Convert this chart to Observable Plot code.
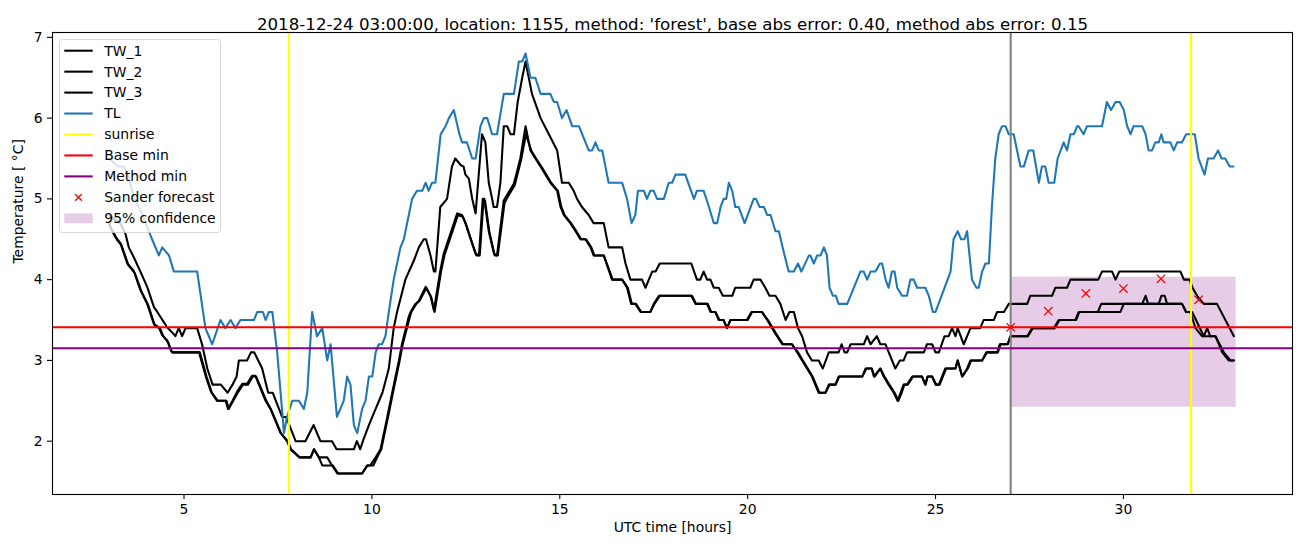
<!DOCTYPE html>
<html><head><meta charset="utf-8">
<script src="https://cdn.jsdelivr.net/npm/d3@7"></script>
<script src="https://cdn.jsdelivr.net/npm/@observablehq/plot@0.6"></script>
<style>
html,body{margin:0;padding:0;background:#fff}
svg{font-family:"DejaVu Sans",sans-serif}
</style>
</head><body><div id="chart"></div>
<script>
// ---------- data (hour, temperature) ----------
const tw1 = [[3.00,4.8],[3.30,4.7],[3.44,4.57],[3.53,4.4],[3.66,4.28],[3.84,4.1],[4.02,3.91],[4.20,3.66],[4.29,3.6],[4.37,3.54],[4.55,3.41],[4.68,3.35],[4.77,3.3],[4.86,3.4],[4.95,3.3],[5.04,3.4],[5.35,3.4],[5.48,3.2],[5.62,2.9],[5.76,2.7],[5.98,2.7],[6.16,2.6],[6.29,2.7],[6.40,2.8],[6.46,3.0],[6.68,3.0],[6.78,3.1],[6.87,3.1],[7.08,2.9],[7.24,2.6],[7.36,2.6],[7.61,2.3],[7.72,2.3],[7.97,2.0],[8.23,2.0],[8.45,2.2],[8.63,2.0],[8.94,2.0],[9.06,1.9],[9.52,1.9],[9.60,2.0],[9.69,1.9],[9.76,2.0],[9.92,2.2],[10.10,2.4],[10.28,2.6],[10.45,2.9],[10.58,3.4],[10.67,3.6],[10.89,4.0],[11.12,4.24],[11.25,4.4],[11.38,4.5],[11.44,4.5],[11.56,4.3],[11.65,4.1],[11.69,4.1],[11.82,4.9],[12.00,5.0],[12.13,5.4],[12.22,5.5],[12.36,5.42],[12.44,5.4],[12.49,5.3],[12.58,5.25],[12.67,5.0],[12.76,4.82],[12.93,5.8],[13.02,5.7],[13.11,5.2],[13.20,5.0],[13.24,4.9],[13.33,4.9],[13.42,5.2],[13.51,5.9],[13.60,5.9],[13.69,5.8],[13.78,5.8],[13.88,6.2],[14.00,6.5],[14.09,6.7],[14.26,6.3],[14.49,6.0],[14.71,5.8],[14.93,5.6],[15.06,5.2],[15.24,5.2],[15.37,5.1],[15.46,5.0],[15.59,4.9],[15.77,4.8],[15.90,4.7],[16.17,4.7],[16.30,4.4],[16.66,4.4],[16.75,4.2],[16.88,4.0],[17.19,4.0],[17.28,3.9],[17.46,4.1],[17.55,4.1],[17.66,4.2],[18.50,4.2],[18.65,4.0],[18.74,4.0],[18.83,4.1],[18.92,4.0],[19.01,4.0],[19.10,3.9],[19.23,3.9],[19.34,3.8],[19.59,3.8],[19.67,3.9],[20.07,3.9],[20.16,4.0],[20.34,4.0],[20.47,3.9],[20.58,3.8],[20.74,3.8],[20.87,3.7],[21.01,3.5],[21.11,3.6],[21.23,3.6],[21.34,3.4],[21.45,3.3],[21.58,3.1],[21.71,3.0],[21.89,3.0],[22.00,2.9],[22.16,3.1],[22.42,3.1],[22.50,3.2],[22.58,3.1],[22.65,3.1],[22.74,3.2],[23.09,3.2],[23.18,3.3],[23.27,3.2],[23.44,3.3],[23.53,3.2],[23.67,3.2],[23.93,2.9],[24.05,3.0],[24.15,3.0],[24.24,3.1],[24.69,3.1],[24.77,3.2],[24.91,3.2],[25.00,3.1],[25.09,3.1],[25.24,3.3],[25.35,3.3],[25.44,3.4],[25.53,3.3],[25.59,3.4],[25.75,3.2],[25.93,3.4],[26.19,3.4],[26.28,3.5],[26.55,3.5],[26.64,3.6],[26.82,3.6],[26.95,3.7],[27.44,3.7],[27.52,3.8],[28.10,3.8],[28.19,3.9],[28.50,3.9],[28.59,4.0],[29.33,4.0],[29.43,4.1],[29.70,4.1],[29.79,4.0],[29.89,4.1],[31.52,4.1],[31.61,4.0],[31.76,4.0],[31.84,3.9],[31.96,3.8],[32.14,3.7],[32.49,3.7],[32.94,3.3]];

const tw2 = [[3.00,4.7],[3.04,4.65],[3.18,4.53],[3.31,4.45],[3.49,4.2],[3.66,4.11],[3.84,3.87],[4.02,3.7],[4.20,3.45],[4.33,3.41],[4.42,3.31],[4.55,3.25],[4.64,3.14],[4.68,3.1],[5.40,3.1],[5.58,2.8],[5.72,2.61],[5.88,2.5],[6.11,2.5],[6.17,2.4],[6.29,2.5],[6.41,2.61],[6.55,2.71],[6.68,2.71],[6.81,2.81],[6.90,2.81],[7.17,2.5],[7.30,2.4],[7.39,2.3],[7.57,2.1],[7.74,2.0],[7.83,1.9],[8.06,1.8],[8.37,1.8],[8.46,1.9],[8.59,1.8],[8.81,1.8],[8.94,1.7],[9.08,1.6],[9.74,1.6],[9.88,1.7],[9.96,1.7],[10.10,1.8],[10.23,1.9],[10.32,2.1],[10.41,2.3],[10.54,2.6],[10.63,2.8],[10.72,3.0],[10.80,3.2],[10.98,3.54],[11.03,3.6],[11.16,3.7],[11.25,3.74],[11.43,3.91],[11.56,3.8],[11.65,3.62],[11.82,4.11],[11.91,4.32],[12.09,4.57],[12.27,4.82],[12.40,4.8],[12.49,4.7],[12.58,4.57],[12.76,4.32],[12.85,4.3],[12.95,5.0],[12.99,5.0],[13.11,4.6],[13.25,4.32],[13.33,4.3],[13.51,4.98],[13.60,5.05],[13.78,5.19],[13.95,5.5],[14.09,5.9],[14.22,5.6],[14.35,5.5],[14.49,5.4],[14.62,5.3],[14.75,5.2],[14.93,5.1],[15.02,4.9],[15.11,4.8],[15.28,4.7],[15.42,4.6],[15.55,4.5],[15.68,4.5],[15.82,4.4],[15.90,4.3],[16.17,4.3],[16.39,4.0],[16.66,4.0],[16.79,3.9],[16.90,3.7],[17.01,3.7],[17.15,3.6],[17.41,3.6],[17.50,3.7],[17.64,3.8],[18.50,3.8],[18.61,3.7],[18.92,3.7],[19.01,3.6],[19.14,3.6],[19.23,3.5],[19.36,3.5],[19.45,3.4],[19.54,3.5],[19.98,3.5],[20.10,3.6],[20.38,3.6],[20.52,3.5],[20.65,3.4],[20.78,3.3],[20.92,3.2],[21.18,3.2],[21.32,3.1],[21.45,3.0],[21.58,2.9],[21.71,2.8],[21.89,2.6],[22.07,2.6],[22.16,2.7],[22.34,2.7],[22.42,2.8],[23.05,2.8],[23.14,2.9],[23.30,2.9],[23.36,2.8],[23.53,2.9],[23.62,2.8],[23.75,2.7],[23.89,2.6],[23.99,2.5],[24.15,2.7],[24.24,2.7],[24.38,2.8],[24.64,2.8],[24.73,2.7],[24.79,2.8],[24.91,2.8],[25.00,2.7],[25.09,2.7],[25.26,2.9],[25.53,2.9],[25.59,3.0],[25.71,2.8],[25.84,2.9],[25.93,3.0],[26.24,3.0],[26.35,3.1],[26.64,3.1],[26.71,3.2],[26.92,3.2],[26.99,3.3],[27.44,3.3],[27.57,3.4],[28.15,3.4],[28.28,3.5],[28.72,3.5],[28.81,3.6],[29.32,3.6],[29.41,3.7],[30.50,3.7],[30.59,3.8],[30.66,3.7],[30.94,3.7],[31.01,3.8],[31.10,3.8],[31.16,3.7],[31.56,3.7],[31.67,3.6],[31.78,3.6],[31.92,3.4],[32.09,3.3],[32.45,3.3],[32.63,3.1],[32.80,3.0],[32.94,3.0]];

const tw3 = [[3.00,4.7],[3.07,4.62],[3.21,4.5],[3.34,4.42],[3.52,4.18],[3.69,4.08],[3.87,3.85],[4.05,3.68],[4.23,3.42],[4.36,3.4],[4.45,3.3],[4.58,3.22],[4.66,3.12],[4.70,3.1],[5.42,3.1],[5.60,2.8],[5.74,2.6],[5.90,2.5],[6.13,2.5],[6.19,2.4],[6.31,2.5],[6.43,2.6],[6.57,2.7],[6.70,2.7],[6.83,2.8],[6.92,2.8],[7.19,2.5],[7.31,2.4],[7.40,2.3],[7.58,2.1],[7.76,2.0],[7.85,1.9],[8.08,1.8],[8.37,1.8],[8.46,1.9],[8.59,1.8],[8.68,1.7],[8.96,1.7],[9.10,1.6],[9.74,1.6],[9.88,1.7],[10.04,1.7],[10.14,1.8],[10.25,1.9],[10.34,2.1],[10.43,2.3],[10.56,2.6],[10.65,2.8],[10.74,3.0],[10.82,3.2],[11.00,3.52],[11.05,3.6],[11.18,3.7],[11.27,3.74],[11.45,3.9],[11.58,3.78],[11.67,3.6],[11.84,4.1],[11.93,4.3],[12.11,4.55],[12.29,4.8],[12.42,4.78],[12.51,4.68],[12.60,4.55],[12.78,4.3],[12.87,4.3],[12.97,4.98],[13.01,4.98],[13.13,4.58],[13.27,4.3],[13.35,4.3],[13.53,4.95],[13.62,5.03],[13.80,5.17],[13.97,5.48],[14.10,5.8],[14.24,5.6],[14.37,5.5],[14.51,5.4],[14.64,5.3],[14.77,5.2],[14.95,5.1],[15.04,4.9],[15.13,4.8],[15.30,4.7],[15.44,4.6],[15.57,4.5],[15.70,4.5],[15.84,4.4],[15.92,4.3],[16.17,4.3],[16.41,4.0],[16.66,4.0],[16.81,3.9],[16.92,3.7],[17.03,3.7],[17.17,3.6],[17.41,3.6],[17.52,3.7],[17.66,3.8],[18.52,3.8],[18.63,3.7],[18.94,3.7],[19.03,3.6],[19.14,3.6],[19.25,3.5],[19.36,3.5],[19.45,3.4],[19.54,3.5],[20.00,3.5],[20.12,3.6],[20.38,3.6],[20.54,3.5],[20.67,3.4],[20.80,3.3],[20.94,3.2],[21.18,3.2],[21.34,3.1],[21.47,3.0],[21.60,2.9],[21.73,2.8],[21.91,2.6],[22.07,2.6],[22.18,2.7],[22.34,2.7],[22.44,2.8],[23.05,2.8],[23.16,2.9],[23.30,2.9],[23.38,2.8],[23.53,2.9],[23.64,2.8],[23.77,2.7],[23.91,2.6],[24.01,2.5],[24.10,2.6],[24.17,2.7],[24.26,2.7],[24.40,2.8],[24.64,2.8],[24.73,2.7],[24.79,2.8],[24.91,2.8],[25.02,2.7],[25.11,2.7],[25.28,2.9],[25.53,2.9],[25.59,3.0],[25.71,2.8],[25.86,2.9],[25.95,3.0],[26.24,3.0],[26.37,3.1],[26.66,3.1],[26.73,3.2],[26.92,3.2],[27.01,3.3],[27.46,3.3],[27.59,3.4],[28.17,3.4],[28.30,3.5],[28.74,3.5],[28.83,3.6],[29.92,3.6],[30.01,3.7],[31.56,3.7],[31.67,3.6],[31.83,3.6],[32.14,3.3],[32.23,3.4],[32.31,3.3],[32.45,3.3],[32.67,3.1],[32.85,3.0],[32.94,3.0]];

const tl = [[3.00,5.5],[3.25,5.4],[3.40,5.4],[3.50,5.3],[3.68,5.0],[3.90,4.8],[4.15,4.5],[4.33,4.3],[4.42,4.4],[4.60,4.3],[4.73,4.1],[5.35,4.1],[5.57,3.4],[5.75,3.2],[5.97,3.5],[6.10,3.4],[6.24,3.5],[6.37,3.4],[6.50,3.5],[6.86,3.5],[6.95,3.6],[7.10,3.6],[7.17,3.5],[7.26,3.6],[7.35,3.6],[7.48,3.1],[7.66,2.1],[7.74,2.3],[7.88,2.5],[8.06,2.5],[8.19,2.4],[8.28,2.6],[8.41,3.6],[8.54,3.3],[8.68,3.4],[8.81,3.0],[8.90,3.2],[9.07,2.3],[9.25,2.5],[9.34,2.8],[9.43,2.7],[9.52,2.2],[9.61,2.1],[9.74,2.4],[9.83,2.5],[9.92,2.8],[10.01,2.8],[10.10,3.1],[10.18,3.2],[10.27,3.2],[10.36,3.3],[10.45,3.6],[10.58,4.0],[10.76,4.4],[10.85,4.5],[11.07,5.0],[11.20,5.1],[11.34,5.1],[11.43,5.2],[11.51,5.1],[11.60,5.2],[11.69,5.2],[11.83,5.8],[11.96,5.9],[12.05,6.0],[12.18,6.1],[12.33,5.8],[12.40,5.7],[12.53,5.7],[12.67,5.5],[12.76,5.5],[12.89,5.9],[12.98,6.0],[13.07,6.0],[13.20,5.8],[13.33,5.8],[13.51,6.3],[13.78,6.3],[13.91,6.7],[14.00,6.7],[14.09,6.8],[14.22,6.5],[14.35,6.5],[14.49,6.3],[14.75,6.3],[14.84,6.2],[14.93,6.2],[15.06,6.0],[15.18,6.1],[15.33,5.9],[15.51,5.9],[15.77,5.6],[15.86,5.6],[15.95,5.7],[16.04,5.6],[16.13,5.6],[16.30,5.2],[16.66,5.2],[16.79,5.0],[16.91,4.7],[17.01,4.8],[17.08,5.1],[17.24,5.1],[17.32,5.0],[17.41,5.1],[17.50,5.1],[17.59,5.0],[17.77,5.0],[17.90,5.2],[17.99,5.2],[18.08,5.3],[18.34,5.3],[18.57,5.0],[18.65,5.1],[18.83,5.1],[18.97,4.9],[19.10,4.7],[19.19,4.7],[19.28,4.9],[19.36,5.0],[19.43,5.0],[19.50,5.2],[19.59,5.1],[19.67,4.9],[19.76,4.9],[19.92,4.7],[20.16,5.0],[20.22,5.0],[20.32,4.9],[20.43,4.9],[20.52,4.8],[20.61,4.8],[20.74,4.6],[20.83,4.6],[20.93,4.4],[21.09,4.1],[21.23,4.1],[21.34,4.2],[21.43,4.1],[21.63,4.3],[21.67,4.3],[21.76,4.2],[21.85,4.3],[21.94,4.3],[22.03,4.4],[22.11,4.3],[22.18,3.9],[22.27,3.8],[22.35,3.8],[22.42,3.7],[22.65,3.7],[23.00,4.1],[23.09,4.1],[23.18,4.0],[23.27,4.1],[23.40,4.1],[23.52,4.2],[23.58,4.2],[23.67,4.0],[23.75,3.9],[23.84,4.1],[23.91,4.1],[23.98,3.9],[24.11,3.8],[24.24,3.8],[24.33,4.0],[24.42,4.0],[24.51,3.9],[24.73,3.9],[24.82,3.8],[24.93,3.6],[25.00,3.6],[25.40,4.1],[25.48,4.5],[25.59,4.6],[25.68,4.5],[25.77,4.5],[25.84,4.6],[25.97,4.0],[26.09,3.9],[26.15,3.9],[26.24,4.1],[26.33,4.2],[26.42,4.2],[26.50,4.9],[26.59,5.5],[26.68,5.8],[26.77,5.9],[26.86,5.9],[26.95,5.8],[27.08,5.8],[27.17,5.6],[27.26,5.4],[27.35,5.4],[27.48,5.6],[27.60,5.6],[27.75,5.2],[27.83,5.4],[27.92,5.4],[28.01,5.2],[28.16,5.2],[28.25,5.5],[28.41,5.7],[28.50,5.6],[28.59,5.8],[28.68,5.8],[28.77,5.9],[28.81,5.9],[28.94,5.8],[29.03,5.9],[29.43,5.9],[29.56,6.2],[29.67,6.1],[29.79,6.2],[29.90,6.2],[30.01,6.1],[30.10,5.9],[30.19,5.8],[30.27,5.9],[30.50,5.9],[30.59,5.8],[30.67,5.6],[30.76,5.6],[30.85,5.7],[30.94,5.7],[31.01,5.8],[31.07,5.7],[31.25,5.7],[31.34,5.6],[31.43,5.7],[31.56,5.7],[31.67,5.8],[31.90,5.8],[32.00,5.5],[32.16,5.3],[32.25,5.5],[32.40,5.5],[32.52,5.6],[32.61,5.5],[32.71,5.5],[32.83,5.4],[32.93,5.4]];

const sunriseHours = [7.79, 31.80];
const forecastStartHour = [27];
const baseMin = [3.41];
const methodMin = [3.15];
const forecastHours = [27, 28, 29, 30, 31, 32];
const forecastValues = [3.41, 3.61, 3.83, 3.89, 4.01, 3.75];
const bandHours = [27, 33];
const bandLow = [2.42, 2.42];
const bandHigh = [4.03, 4.03];
const xTicks = [5, 10, 15, 20, 25, 30];
const yTicks = [2, 3, 4, 5, 6, 7];
const titleText = "2018-12-24 03:00:00, location: 1155, method: 'forest', base abs error: 0.40, method abs error: 0.15";
const legendLabels = ["TW_1", "TW_2", "TW_3", "TL", "sunrise", "Base min", "Method min", "Sander forecast", "95% confidence"];
const legendColors = ["black", "black", "black", "#1f77b4", "yellow", "red", "purple", "red", "purple"];

// ---------- chart ----------
const LW = 2.08;
const W = 1302, H = 547, ML = 52, MR = 10, MT = 32, MB = 53;
const px = d => d[0], py = d => d[1];

const chart = Plot.plot({
  width: W, height: H,
  marginLeft: ML, marginRight: MR, marginTop: MT, marginBottom: MB,
  style: {fontFamily: "DejaVu Sans, sans-serif", fontSize: "13.9px", color: "black", background: "white", overflow: "visible"},
  x: {domain: [1.5, 34.5]},
  y: {domain: [1.34, 7.06]},
  marks: [
    Plot.areaY(bandHours, {x: d => d, y1: (d, i) => bandLow[i], y2: (d, i) => bandHigh[i], fill: "purple", fillOpacity: 0.2}),
    Plot.line(tw1, {x: px, y: py, stroke: "black", strokeWidth: LW}),
    Plot.line(tw2, {x: px, y: py, stroke: "black", strokeWidth: LW}),
    Plot.line(tw3, {x: px, y: py, stroke: "black", strokeWidth: LW}),
    Plot.line(tl, {x: px, y: py, stroke: "#1f77b4", strokeWidth: LW}),
    Plot.ruleX(forecastStartHour, {stroke: "grey", strokeWidth: LW}),
    Plot.ruleX(sunriseHours, {stroke: "yellow", strokeWidth: LW}),
    Plot.ruleY(baseMin, {stroke: "red", strokeWidth: LW}),
    Plot.ruleY(methodMin, {stroke: "purple", strokeWidth: LW}),
    Plot.dot(forecastHours, {x: d => d, y: (d, i) => forecastValues[i], symbol: "times", r: 3.9, stroke: "red", strokeWidth: 1.3}),
    Plot.frame({stroke: "black", strokeWidth: 1.1}),
    Plot.axisX({ticks: xTicks, tickFormat: d => String(d), tickSize: 5, tickPadding: 5, fontSize: 13.9, label: null, strokeWidth: 1.1}),
    Plot.axisY({ticks: yTicks, tickFormat: d => String(d), tickSize: 5, tickPadding: 5, fontSize: 13.9, label: null, strokeWidth: 1.1}),
    Plot.text([titleText], {frameAnchor: "top", dy: -14, fontSize: 16.67, fill: "black"}),
    Plot.text(["UTC time [hours]"], {frameAnchor: "bottom", dy: 37, fontSize: 13.9, fill: "black"}),
    Plot.text(["Temperature [ °C]"], {frameAnchor: "left", rotate: -90, dx: -34, fontSize: 13.9, fill: "black"})
  ]
});

document.getElementById("chart").appendChild(chart);

// ---------- legend (upper left, inside the axes) ----------
const svg = d3.select(chart);
const lg = svg.append("g").attr("class", "legend").attr("text-anchor", "start");
const bx = 59.5, by = 39.5, bw = 161, bh = 193;
lg.append("rect").attr("x", bx).attr("y", by).attr("width", bw).attr("height", bh)
  .attr("rx", 3).attr("fill", "white").attr("fill-opacity", 0.8)
  .attr("stroke", "#cccccc").attr("stroke-opacity", 0.8).attr("stroke-width", 1);
const rowY0 = 50.7, rowDY = 20.95, hx1 = 64.3, hx2 = 92.7, tx = 104.3;
legendLabels.forEach((lab, i) => {
  const cy = rowY0 + i * rowDY;
  const col = legendColors[i];
  if (i < 7) {
    lg.append("line").attr("x1", hx1).attr("x2", hx2).attr("y1", cy).attr("y2", cy)
      .attr("stroke", col).attr("stroke-width", LW);
  } else if (i === 7) {
    const cx = (hx1 + hx2) / 2, s = 3.4;
    lg.append("path").attr("d", `M${cx - s},${cy - s}L${cx + s},${cy + s}M${cx - s},${cy + s}L${cx + s},${cy - s}`)
      .attr("stroke", col).attr("stroke-width", 1.3).attr("fill", "none");
  } else {
    lg.append("rect").attr("x", hx1).attr("y", cy - 4.9).attr("width", hx2 - hx1).attr("height", 9.7)
      .attr("fill", col).attr("fill-opacity", 0.2);
  }
  lg.append("text").attr("x", tx).attr("y", cy).attr("dy", "0.35em")
    .attr("text-anchor", "start")
    .attr("font-size", 13.9).attr("fill", "black").text(lab);
});
</script>
</body></html>
